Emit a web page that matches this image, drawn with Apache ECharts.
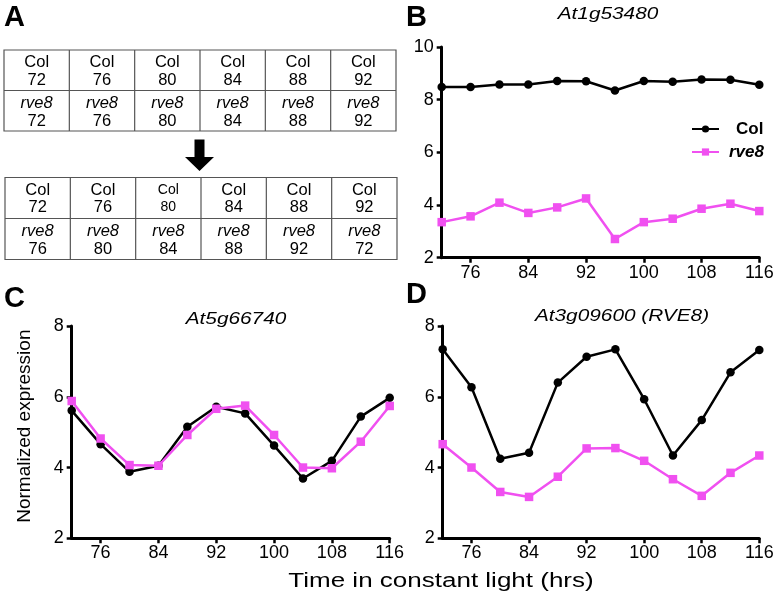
<!DOCTYPE html>
<html>
<head>
<meta charset="utf-8">
<script src="https://cdn.jsdelivr.net/npm/echarts@6/dist/echarts.min.js"></script>
<style>
html,body{margin:0;padding:0;background:#fff;}
#c{width:782px;height:604px;}
</style>
</head>
<body>
<div id="c"></div>
<script>
// ---- data ----
const hours = [72, 76, 80, 84, 88, 92, 96, 100, 104, 108, 112, 116];
const xTickValues = [76, 84, 92, 100, 108, 116];

const B_col  = [8.48, 8.48, 8.58, 8.58, 8.71, 8.70, 8.35, 8.71, 8.68, 8.77, 8.76, 8.57];
const B_rve8 = [3.35, 3.57, 4.09, 3.70, 3.91, 4.25, 2.71, 3.35, 3.48, 3.86, 4.05, 3.77];
const C_col  = [5.61, 4.66, 3.88, 4.05, 5.15, 5.72, 5.53, 4.62, 3.69, 4.19, 5.44, 5.97];
const C_rve8 = [5.88, 4.82, 4.07, 4.05, 4.92, 5.66, 5.75, 4.92, 4.00, 3.98, 4.73, 5.74];
const D_col  = [7.34, 6.27, 4.25, 4.42, 6.40, 7.13, 7.34, 5.93, 4.34, 5.34, 6.69, 7.32];
const D_rve8 = [4.66, 4.00, 3.31, 3.17, 3.74, 4.54, 4.55, 4.19, 3.67, 3.20, 3.85, 4.34];

const table1Col  = [72, 76, 80, 84, 88, 92];
const table1Rve8 = [72, 76, 80, 84, 88, 92];
const table2Col  = [72, 76, 80, 84, 88, 92];
const table2Rve8 = [76, 80, 84, 88, 92, 72];

const titles = ['At1g53480', 'At5g66740', 'At3g09600 (RVE8)'];

// ---- styles ----
const FONT = '"Liberation Sans", Arial, Helvetica, sans-serif';
const BLACK = '#000000';
const PINK = '#F050F0';

const chart = echarts.init(document.getElementById('c'), null, {renderer: 'canvas'});

const grids = [
  {left: 441.7, top: 47, width: 317.6, height: 210.7},
  {left: 71.7, top: 326, width: 318, height: 212.3},
  {left: 442.7, top: 326, width: 316.6, height: 212.3}
];
const yRanges = [[2, 10], [2, 8], [2, 8]];

function zip(xs, ys) { return xs.map((x, i) => [x, ys[i]]); }

const xAxes = grids.map((g, i) => ({
  type: 'value', gridIndex: i, min: 72, max: 116,
  axisLine: {show: true, lineStyle: {color: BLACK, width: 3}},
  axisTick: {show: true, length: 5, lineStyle: {color: BLACK, width: 2.5}, customValues: xTickValues},
  axisLabel: {show: true, color: BLACK, fontSize: 18, fontFamily: FONT, margin: 6, customValues: xTickValues},
  splitLine: {show: false}
}));

const yAxes = grids.map((g, i) => {
  const ax = {
    type: 'value', gridIndex: i, min: yRanges[i][0], max: yRanges[i][1], interval: 2,
    axisLine: {show: true, lineStyle: {color: BLACK, width: 3}},
    axisTick: {show: true, length: 5, lineStyle: {color: BLACK, width: 2.5}},
    axisLabel: {show: true, color: BLACK, fontSize: 18, fontFamily: FONT, margin: 8},
    splitLine: {show: false}
  };
  if (i === 1) {
    ax.name = 'Normalized expression';
    ax.nameLocation = 'middle';
    ax.nameGap = 37;
    ax.nameTextStyle = {color: BLACK, fontSize: 19, fontFamily: FONT, padding: [0, 0, 0, 12]};
  }
  return ax;
});

const panelData = [[B_col, B_rve8], [C_col, C_rve8], [D_col, D_rve8]];
const series = [];
panelData.forEach((pair, i) => {
  series.push({
    name: 'Col', type: 'line', xAxisIndex: i, yAxisIndex: i,
    data: zip(hours, pair[0]),
    symbol: 'circle', symbolSize: 8.5, clip: false, z: 3,
    lineStyle: {color: BLACK, width: 2.5},
    itemStyle: {color: BLACK}
  });
  series.push({
    name: 'rve8', type: 'line', xAxisIndex: i, yAxisIndex: i,
    data: zip(hours, pair[1]),
    symbol: 'rect', symbolSize: 8.5, clip: false, z: 4,
    lineStyle: {color: PINK, width: 2.5},
    itemStyle: {color: PINK}
  });
});

// ---- graphics: tables, arrow, panel letters, titles ----
const graphics = [];
function addTable(x0, y0, x1, y1, colVals, rveVals, smallIdx) {
  const w = (x1 - x0) / 6;
  const ym = (y0 + y1) / 2;
  graphics.push({type: 'rect', shape: {x: x0, y: y0, width: x1 - x0, height: y1 - y0},
    style: {fill: 'none', stroke: '#555', lineWidth: 1.2}});
  graphics.push({type: 'line', shape: {x1: x0, y1: ym, x2: x1, y2: ym},
    style: {stroke: '#555', lineWidth: 1.2}});
  for (let k = 1; k < 6; k++) {
    graphics.push({type: 'line', shape: {x1: x0 + k * w, y1: y0, x2: x0 + k * w, y2: y1},
      style: {stroke: '#555', lineWidth: 1.2}});
  }
  for (let k = 0; k < 6; k++) {
    const cx = x0 + (k + 0.5) * w;
    const fs = (k === smallIdx) ? 14 : 16.5;
    graphics.push({type: 'text', x: cx, y: y0 + 12.5, style: {text: 'Col', fill: BLACK, font: fs + 'px ' + FONT, textAlign: 'center', textVerticalAlign: 'middle'}});
    graphics.push({type: 'text', x: cx, y: y0 + 30, style: {text: String(colVals[k]), fill: BLACK, font: fs + 'px ' + FONT, textAlign: 'center', textVerticalAlign: 'middle'}});
    graphics.push({type: 'text', x: cx, y: ym + 13, style: {text: 'rve8', fill: BLACK, font: 'italic 16.5px ' + FONT, textAlign: 'center', textVerticalAlign: 'middle'}});
    graphics.push({type: 'text', x: cx, y: ym + 30.5, style: {text: String(rveVals[k]), fill: BLACK, font: '16.5px ' + FONT, textAlign: 'center', textVerticalAlign: 'middle'}});
  }
}
addTable(4, 50, 396, 131, table1Col, table1Rve8, -1);
addTable(5, 177.5, 397, 259.5, table2Col, table2Rve8, 2);

graphics.push({type: 'polygon', shape: {points: [[194.5, 139.5], [204.5, 139.5], [204.5, 157], [214, 157], [199.5, 171], [185, 157], [194.5, 157]]},
  style: {fill: BLACK}});

const letters = [['A', 4, 18], ['B', 406, 18], ['C', 4, 298.5], ['D', 406, 295]];
letters.forEach(l => graphics.push({type: 'text', x: l[1], y: l[2],
  style: {text: l[0], fill: BLACK, font: 'bold 29px ' + FONT, textAlign: 'left', textVerticalAlign: 'middle'}}));

const titlePos = [[608, 15], [236, 320], [622, 317]];
titles.forEach((t, i) => graphics.push({type: 'text', x: titlePos[i][0], y: titlePos[i][1], scaleX: 1.3,
  style: {text: t, fill: BLACK, font: 'italic 16px ' + FONT, textAlign: 'center', textVerticalAlign: 'middle'}}));

graphics.push({type: 'text', x: 441, y: 581, scaleX: 1.3, style: {text: 'Time in constant light (hrs)', fill: BLACK,
  font: '20px ' + FONT, textAlign: 'center', textVerticalAlign: 'middle'}});

chart.setOption({
  animation: false,
  backgroundColor: '#ffffff',
  grid: grids,
  xAxis: xAxes,
  yAxis: yAxes,
  legend: {
    left: 686, top: 114, orient: 'vertical',
    itemWidth: 27, itemHeight: 9, itemGap: 3,
    textStyle: {color: BLACK, fontSize: 17, fontWeight: 'bold', fontFamily: FONT, lineHeight: 20},
    data: [
      {name: 'Col', textStyle: {padding: [0, 0, 0, 12]}},
      {name: 'rve8', textStyle: {fontStyle: 'italic', padding: [0, 0, 0, 5]}}
    ]
  },
  series: series,
  graphic: graphics
});
</script>
</body>
</html>
